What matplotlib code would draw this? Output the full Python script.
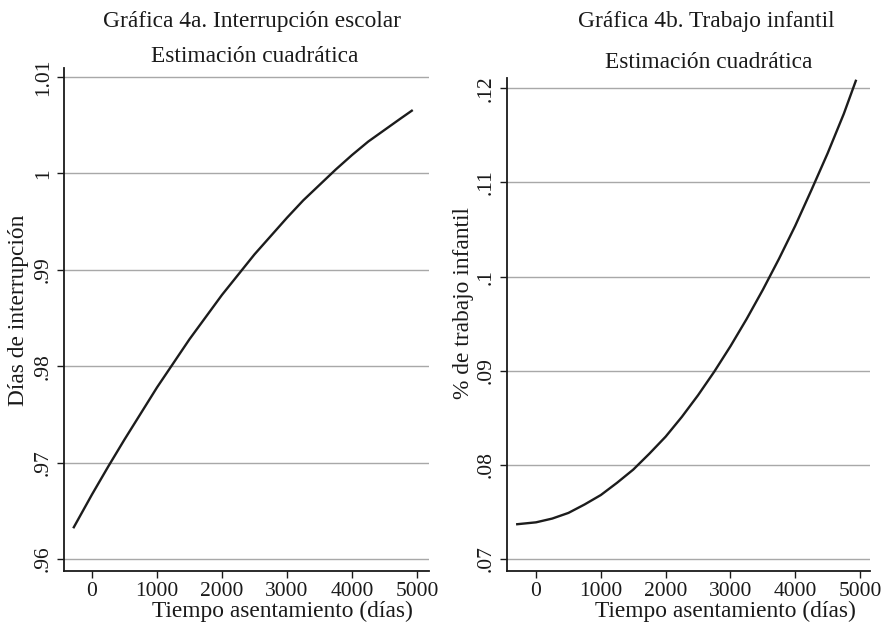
import matplotlib
matplotlib.use("Agg")
import matplotlib.pyplot as plt

plt.rcParams['font.family'] = ['Liberation Serif', 'DejaVu Serif']

# ---- data ----
dias_a = [-280, 0, 250, 500, 750, 1000, 1250, 1500, 1750, 2000, 2250, 2500,
          2750, 3000, 3250, 3500, 3750, 4000, 4250, 4500, 4750, 4920]
interrupcion = [0.9633, 0.9667, 0.9696, 0.9724, 0.9751, 0.9778, 0.9803, 0.9828,
                0.9851, 0.9874, 0.9895, 0.9916, 0.9935, 0.9954, 0.9972, 0.9988,
                1.0004, 1.0019, 1.0033, 1.0045, 1.0057, 1.0065]

dias_b = [-290, 0, 250, 500, 750, 1000, 1250, 1500, 1750, 2000, 2250, 2500,
          2750, 3000, 3250, 3500, 3750, 4000, 4250, 4500, 4750, 4935]
trabajo = [0.0737, 0.0739, 0.0743, 0.0749, 0.0758, 0.0768, 0.0781, 0.0795,
           0.0812, 0.0830, 0.0851, 0.0874, 0.0899, 0.0926, 0.0955, 0.0986,
           0.1019, 0.1054, 0.1092, 0.1131, 0.1173, 0.1208]

x_ticks = [0, 1000, 2000, 3000, 4000, 5000]
x_ticklabels = ["0", "1000", "2000", "3000", "4000", "5000"]
ya_ticks = [0.96, 0.97, 0.98, 0.99, 1.00, 1.01]
ya_ticklabels = [".96", ".97", ".98", ".99", "1", "1.01"]
yb_ticks = [0.07, 0.08, 0.09, 0.10, 0.11, 0.12]
yb_ticklabels = [".07", ".08", ".09", ".1", ".11", ".12"]

title_a = "Gráfica 4a. Interrupción escolar"
title_b = "Gráfica 4b. Trabajo infantil"
subtitle = "Estimación cuadrática"
xlabel = "Tiempo asentamiento (días)"
ylabel_a = "Días de interrupción"
ylabel_b = "% de trabajo infantil"

W, H = 890, 628
fig = plt.figure(figsize=(W / 100, H / 100), dpi=100)

def px_axes(x0, y0, x1, y1):
    return fig.add_axes([x0 / W, 1 - y1 / H, (x1 - x0) / W, (y1 - y0) / H])

ax_a = px_axes(64, 68, 429, 571)
ax_b = px_axes(507, 78, 870, 571)

def style(ax, xs, ys, yt, ytl, xlim, ylim):
    ax.plot(xs, ys, color='#1c1c1c', lw=1.7, zorder=3, solid_joinstyle='round')
    ax.set_xlim(*xlim)
    ax.set_ylim(*ylim)
    ax.set_xticks(x_ticks)
    ax.set_xticklabels(x_ticklabels)
    ax.set_yticks(yt)
    ax.set_yticklabels(ytl, rotation=90, va='center')
    for s in ['top', 'right']:
        ax.spines[s].set_visible(False)
    for s in ['left', 'bottom']:
        ax.spines[s].set_linewidth(1.3)
        ax.spines[s].set_color('#1a1a1a')
    ax.grid(axis='y', color='#a8a8a8', lw=1.0)
    ax.set_axisbelow(True)
    ax.tick_params(axis='both', length=5, width=1.0, color='#1a1a1a',
                   labelsize=15.5, labelcolor='#1a1a1a', pad=3)

style(ax_a, dias_a, interrupcion, ya_ticks, ya_ticklabels,
      (-431, 5185), (0.95876, 1.01093))
style(ax_b, dias_b, trabajo, yb_ticks, yb_ticklabels,
      (-448, 5154), (0.06873, 0.1211))

fs = 16.8
tc = '#1a1a1a'
fig.text(252 / W, 1 - 22 / H, title_a, ha='center', va='center', fontsize=fs, color=tc)
fig.text(255 / W, 1 - 57 / H, subtitle, ha='center', va='center', fontsize=fs, color=tc)
fig.text(706 / W, 1 - 22 / H, title_b, ha='center', va='center', fontsize=fs, color=tc)
fig.text(709 / W, 1 - 62 / H, subtitle, ha='center', va='center', fontsize=fs, color=tc)

fig.text(282 / W, 1 - 611 / H, xlabel, ha='center', va='center', fontsize=fs, color=tc)
fig.text(725 / W, 1 - 611 / H, xlabel, ha='center', va='center', fontsize=fs, color=tc)
fig.text(19 / W, 1 - 310 / H, ylabel_a, ha='center', va='center', rotation=90, fontsize=fs, color=tc)
fig.text(464 / W, 1 - 303 / H, ylabel_b, ha='center', va='center', rotation=90, fontsize=fs, color=tc)

fig.savefig("out.png", dpi=100, facecolor='white')
